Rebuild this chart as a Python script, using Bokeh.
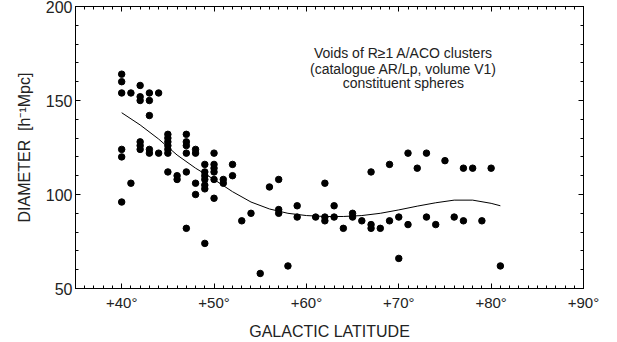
from bokeh.plotting import figure
from bokeh.models import Range1d, FixedTicker, LinearAxis, ColumnDataSource, CustomLabelingPolicy
from bokeh.core.properties import value
from bokeh.embed import file_html
from bokeh.resources import INLINE

FONT = "Liberation Sans"

# ---- data ----
lat = ([40]*6 + [41]*2 + [42]*6 + [43]*5 + [44]*2 + [45]*7 + [46]*2 + [47]*6 +
       [48]*4 + [49]*7 + [50]*6 + [51]*2 + [52]*2 + [53] + [54] + [55] + [56] +
       [57]*3 + [58] + [59]*2 + [61] + [62]*3 + [63]*2 + [64] + [65]*2 + [66] +
       [67]*3 + [68] + [69]*2 + [70]*2 + [71]*2 + [72] + [73]*2 + [74] + [75] +
       [76] + [77]*2 + [78] + [79] + [80] + [81])
diameter = ([164, 160, 154, 124, 120, 96] + [154, 106] + [158, 152, 150, 128, 126, 124] +
            [154, 150, 142, 124, 122] + [154, 122] + [132, 130, 128, 126, 124, 122, 112] +
            [110, 108] + [132, 128, 126, 122, 112, 82] + [124, 122, 106, 100] +
            [116, 112, 110, 108, 105, 103, 74] + [122, 116, 114, 112, 108, 98] +
            [108, 106] + [116, 110] + [86] + [90] + [58] + [104] + [108, 92, 90] + [62] +
            [94, 88] + [88] + [106, 88, 86] + [94, 88] + [82] + [90, 88] + [86] +
            [112, 84, 82] + [82] + [116, 86] + [88, 66] + [122, 84] + [114] + [122, 88] +
            [84] + [118] + [88] + [114, 86] + [114] + [86] + [114] + [62])

fit_lat = [40, 42, 44, 46, 48, 50, 52, 54, 56, 58, 60, 62, 64, 66, 68, 70, 72, 74, 76, 78, 80, 81]
fit_diam = [143.5, 137, 129.5, 121, 114, 108, 101.5, 96, 92.3, 90, 88.8, 88.3, 88.3, 88.8,
            90, 91.8, 93.8, 95.6, 97, 97, 95.3, 94]

x_major = [40, 50, 60, 70, 80, 90]
x_labels = ["+40°", "+50°", "+60°", "+70°", "+80°", "+90°"]
y_major = [50, 100, 150, 200]

note_lines = ["Voids of R≥1 A/ACO clusters", "(catalogue AR/Lp, volume V1)", "constituent spheres"]
note_x = [70.5, 70.5, 70.5]
note_y = [175.1, 166.6, 159.2]

p = figure(width=617, height=342, output_backend="svg", toolbar_location=None,
           x_range=Range1d(35, 90), y_range=Range1d(50, 200),
           x_axis_label="GALACTIC LATITUDE",
           y_axis_label="DIAMETER\u00a0\u00a0[h\u207b\u00b9Mpc]",
           min_border_left=75, min_border_right=34, min_border_top=6, min_border_bottom=53)
p.background_fill_color = "white"
p.border_fill_color = "white"
p.outline_line_color = "black"
p.outline_line_width = 1
p.xgrid.visible = False
p.ygrid.visible = False

xt = FixedTicker(ticks=x_major, minor_ticks=list(range(35, 91)))
yt = FixedTicker(ticks=y_major, minor_ticks=list(range(50, 201, 10)))


def style(ax, labels=True):
    ax.major_tick_in = 5
    ax.major_tick_out = 0
    ax.minor_tick_in = 3
    ax.minor_tick_out = 0
    ax.axis_line_color = "black"
    ax.major_tick_line_color = "black"
    ax.minor_tick_line_color = "black"
    ax.major_label_text_font = FONT
    ax.axis_label_text_font = FONT
    ax.axis_label_text_font_style = "normal"
    ax.axis_label_text_font_size = "16px"
    ax.axis_label_text_color = "#222222"
    ax.major_label_text_color = "#222222"
    ax.major_label_text_font_size = "15px"
    if not labels:
        ax.major_label_policy = CustomLabelingPolicy(code="""
for (const i of Array.from(indices)) indices.unset(i)
""")
        ax.major_label_text_font_size = "0px"
        ax.major_label_standoff = 0
        ax.axis_label = None


xa = p.xaxis[0]
xa.ticker = xt
xa.major_label_overrides = {k: v for k, v in zip(x_major, x_labels)}
style(xa)
xa.major_label_standoff = 5
xa.axis_label_standoff = 9

ya = p.yaxis[0]
ya.ticker = yt
style(ya)
ya.major_label_text_font_size = "16px"
ya.major_label_standoff = 3
ya.axis_label_standoff = 10

top = LinearAxis(ticker=xt)
style(top, labels=False)
p.add_layout(top, "above")
right = LinearAxis(ticker=yt)
style(right, labels=False)
p.add_layout(right, "right")

p.line(fit_lat, fit_diam, line_color="black", line_width=1)
p.scatter(lat, diameter, size=6.5, color="black")

src = ColumnDataSource(dict(x=note_x, y=note_y, t=note_lines))
p.text(x="x", y="y", text="t", source=src, text_align="center", text_baseline="middle",
       text_font=value(FONT), text_font_size="14px", text_color="#222222")

open("out.html", "w").write(file_html(p, INLINE))
